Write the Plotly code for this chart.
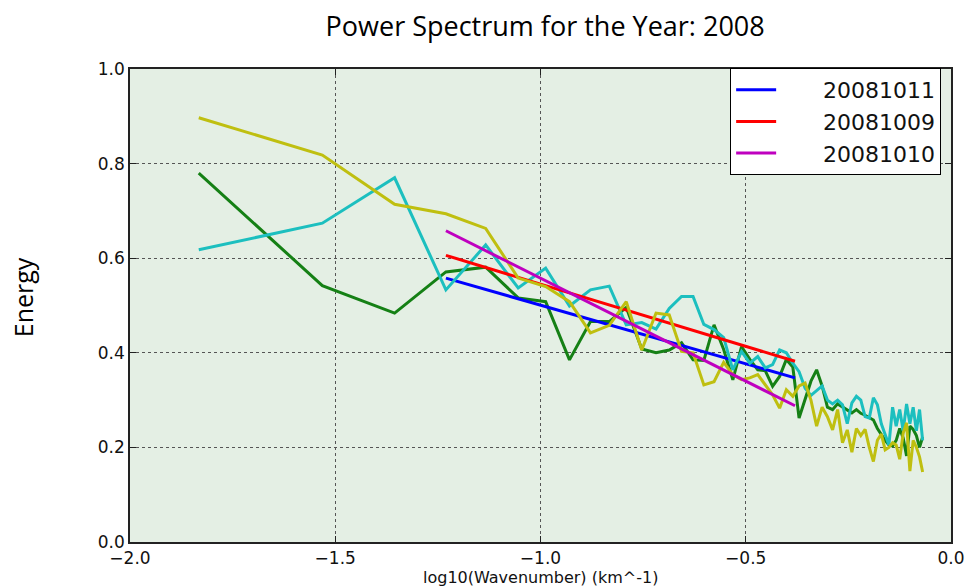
import numpy as np
import plotly.graph_objects as go

# Wavenumber indices (x axis is log10 of wavenumber, km^-1)
wavenumber = list(range(1, 59))
wn_scale = 68.0

# Spectra
energy_green = [0.780, 0.542, 0.484, 0.571, 0.581, 0.516, 0.508, 0.385, 0.466, 0.466,
                0.496, 0.408, 0.400, 0.406, 0.421, 0.385, 0.384, 0.459, 0.407, 0.343,
                0.413, 0.386, 0.364, 0.362, 0.329, 0.350, 0.386, 0.370, 0.262, 0.300,
                0.340, 0.364, 0.330, 0.285, 0.280, 0.292, 0.285, 0.280, 0.273, 0.280,
                0.272, 0.268, 0.262, 0.258, 0.240, 0.227, 0.215, 0.205, 0.203, 0.215,
                0.240, 0.220, 0.182, 0.245, 0.238, 0.225, 0.200, 0.222]
energy_cyan = [0.618, 0.674, 0.770, 0.533, 0.628, 0.537, 0.579, 0.499, 0.533, 0.541,
               0.459, 0.464, 0.450, 0.494, 0.519, 0.519, 0.460, 0.449, 0.432, 0.364,
               0.403, 0.378, 0.392, 0.368, 0.375, 0.406, 0.400, 0.378, 0.360, 0.325,
               0.310, 0.320, 0.330, 0.300, 0.292, 0.300, 0.290, 0.250, 0.294, 0.308,
               0.300, 0.265, 0.262, 0.305, 0.290, 0.250, 0.228, 0.205, 0.285, 0.245,
               0.280, 0.235, 0.292, 0.250, 0.285, 0.235, 0.280, 0.215]
energy_yellow = [0.897, 0.818, 0.714, 0.694, 0.663, 0.558, 0.540, 0.508, 0.442, 0.458,
                 0.508, 0.406, 0.484, 0.480, 0.403, 0.400, 0.332, 0.339, 0.380, 0.354,
                 0.343, 0.347, 0.354, 0.332, 0.311, 0.283, 0.322, 0.308, 0.330, 0.336,
                 0.300, 0.245, 0.285, 0.265, 0.237, 0.280, 0.210, 0.237, 0.190, 0.240,
                 0.225, 0.238, 0.200, 0.170, 0.215, 0.228, 0.195, 0.200, 0.210, 0.205,
                 0.175, 0.230, 0.252, 0.150, 0.215, 0.200, 0.180, 0.148]

# Linear fits (endpoints in log10 wavenumber)
fit_x = [-1.2304, -0.38]
fit_20081011 = [0.558, 0.347]
fit_20081009 = [0.606, 0.382]
fit_20081010 = [0.658, 0.288]

legend_names = ["20081011", "20081009", "20081010"]
x_tick_vals = [-2.0, -1.5, -1.0, -0.5, 0.0]
y_tick_vals = [0.0, 0.2, 0.4, 0.6, 0.8, 1.0]

x = np.log10(np.array(wavenumber) / wn_scale)
pad = "\u00a0" * 6

fig = go.Figure()
lw = 3
fig.add_trace(go.Scatter(x=x, y=energy_green, mode="lines", line=dict(color="#158015", width=lw), showlegend=False))
fig.add_trace(go.Scatter(x=fit_x, y=fit_20081011, mode="lines", line=dict(color="#0000ff", width=lw), name=pad + legend_names[0]))
fig.add_trace(go.Scatter(x=x, y=energy_cyan, mode="lines", line=dict(color="#1cbfbf", width=lw), showlegend=False))
fig.add_trace(go.Scatter(x=fit_x, y=fit_20081009, mode="lines", line=dict(color="#ff0000", width=lw), name=pad + legend_names[1]))
fig.add_trace(go.Scatter(x=x, y=energy_yellow, mode="lines", line=dict(color="#bfbf10", width=lw), showlegend=False))
fig.add_trace(go.Scatter(x=fit_x, y=fit_20081010, mode="lines", line=dict(color="#bf00bf", width=lw), name=pad + legend_names[2]))

axis_common = dict(
    showline=True, linecolor="#222", linewidth=1.5, mirror="ticks",
    ticks="inside", ticklen=6, tickcolor="#222",
    showgrid=True, gridcolor="#555", griddash="dot", gridwidth=1,
    zeroline=False, tickformat=".1f",
    tickfont=dict(family="DejaVu Sans", size=17, color="#111"),
)

fig.update_xaxes(range=[-2.0, 0.0], tickvals=x_tick_vals, **axis_common)
fig.update_yaxes(range=[0.0, 1.0], tickvals=y_tick_vals, **axis_common)

fig.update_layout(
    width=977, height=587,
    margin=dict(l=130, r=17, t=69, b=45),
    paper_bgcolor="white",
    plot_bgcolor="#e4efe4",
    title=dict(text="Power Spectrum for the Year: 2008", x=0.558, xref="container",
               y=0.954, yref="container", xanchor="center", yanchor="middle",
               font=dict(family="Open Sans", size=27, color="black")),
    legend=dict(x=0.988, y=1.002, xanchor="right", yanchor="top",
                bgcolor="white", bordercolor="black", borderwidth=1,
                font=dict(family="DejaVu Sans", size=22, color="#111"),
                itemwidth=40, tracegroupgap=0),
    annotations=[
        dict(text="Energy", xref="paper", yref="paper", x=-0.13, y=0.518,
             textangle=-90, showarrow=False, xanchor="center", yanchor="middle",
             font=dict(family="Open Sans", size=25, color="black")),
        dict(text="log10(Wavenumber) (km^-1)", xref="paper", yref="paper", x=0.5, y=-0.075,
             showarrow=False, xanchor="center", yanchor="middle",
             font=dict(family="DejaVu Sans", size=16, color="#111")),
    ],
)

fig.write_html("out.html")
